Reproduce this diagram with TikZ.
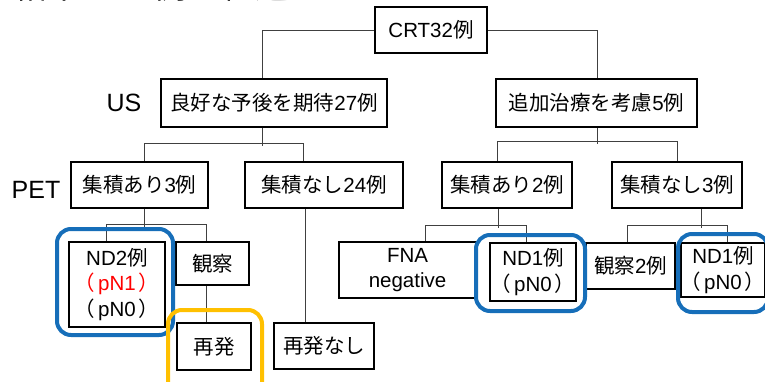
\documentclass[tikz,border=0pt]{standalone}
\usepackage{fontspec}
\setmainfont{Liberation Sans}
\newfontfamily\jpf{Noto Sans CJK JP}
\newcommand\J[1]{{\jpf #1}}
\newcommand\LP{\J{（}\hspace{3pt}}
\newcommand\RP{\hspace{3pt}\J{）}}
\definecolor{frameblue}{RGB}{22,110,185}
\definecolor{framegold}{RGB}{255,192,0}
\definecolor{linegray}{RGB}{64,64,64}
\begin{document}
\begin{tikzpicture}[x=1pt,y=-1pt,
  bx/.style={draw=black, line width=2.4pt, fill=white, inner sep=0pt, align=center,
             font=\fontsize{20.5}{25.5}\selectfont},
  conn/.style={draw=linegray, line width=1pt},
  grp/.style={draw, line width=4pt, rounded corners=14pt, inner sep=0pt},
  lbl/.style={font=\fontsize{25}{30}\selectfont, inner sep=0pt}]
\useasboundingbox (0,0) rectangle (765,381);
\clip (0,0) rectangle (765,381);

% title (cut by the top edge)
\node[anchor=base west, inner sep=0pt, font=\fontsize{34}{40}\selectfont] (title) at (13,-2) {\J{結果：}32\J{例の経過}};

% side labels
\node[lbl] (us) at (124,103) {US};
\node[lbl] (pet) at (36,190) {PET};

% boxes
\node[bx, minimum width=112pt, minimum height=46pt] (crt) at (431,30) {CRT32\J{例}};
\node[bx, minimum width=226pt, minimum height=48pt] (good) at (274,103) {\J{良好な予後を期待}27\J{例}};
\node[bx, minimum width=201pt, minimum height=48pt] (add) at (596.5,103) {\J{追加治療を考慮}5\J{例}};
\node[bx, minimum width=137pt, minimum height=46pt] (acc3) at (139.5,185) {\J{集積あり}3\J{例}};
\node[bx, minimum width=158pt, minimum height=46pt] (no24) at (324,185) {\J{集積なし}24\J{例}};
\node[bx, minimum width=130pt, minimum height=46pt] (acc2) at (507,185) {\J{集積あり}2\J{例}};
\node[bx, minimum width=130pt, minimum height=46pt] (no3) at (677,185) {\J{集積なし}3\J{例}};
\node[bx, minimum width=96pt, minimum height=85pt] (nd2) at (117,284.5)
  {ND2\J{例}\\\textcolor{red}{\LP pN1\RP}\\\LP pN0\RP};
\node[bx, minimum width=73pt, minimum height=43pt] (obs) at (212.5,263.5) {\J{観察}};
\node[bx, minimum width=74pt, minimum height=47pt] (rel) at (214,346.5) {\J{再発}};
\node[bx, minimum width=100pt, minimum height=46pt] (norel) at (324,346) {\J{再発なし}};
\node[bx, minimum width=137pt, minimum height=56pt] (fna) at (407.5,270) {FNA\\negative};
\node[bx, minimum width=86pt, minimum height=58pt] (nd1a) at (533,272) {ND1\J{例}\\\LP pN0\RP};
\node[bx, minimum width=89pt, minimum height=46pt] (obs2) at (630.5,266) {\J{観察}2\J{例}};
\node[bx, minimum width=70pt, minimum height=54pt] (nd1b) at (723,270) {ND1\J{例}\\\LP pN0\RP};

% connectors
\draw[conn] (crt.west) -| ([xshift=-12pt]good.north);
\draw[conn] (crt.east) -| ([xshift=0.5pt]add.north);
\draw[conn] ([xshift=-12pt]good.south) -- ++(0,18);
\draw[conn] ([xshift=4.5pt]acc3.north) -- ++(0,-17) -| ([xshift=-21pt]no24.north);
\draw[conn] ([xshift=0.5pt]add.south) -- ++(0,16);
\draw[conn] ([xshift=-10pt]acc2.north) -- ++(0,-19) -| (no3.north);
\draw[conn] ([xshift=4.5pt]acc3.south) -- ++(0,18);
\draw[conn] ([xshift=-11pt]nd2.north) -- ++(0,-16) -| ([xshift=-6.5pt]obs.north);
\draw[conn] ([xshift=-19pt]no24.south) -- ([xshift=-19pt]norel.north);
\draw[conn] ([xshift=-6.5pt]obs.south) -- ([xshift=-8pt]rel.north);
\draw[conn] ([xshift=-9pt]acc2.south) -- ++(0,19);
\draw[conn] ([xshift=17.5pt]fna.north) -- ++(0,-15) -| ([xshift=-7pt]nd1a.north);
\draw[conn] ([xshift=24pt]no3.south) -- ++(0,19);
\draw[conn] ([xshift=-3.5pt]obs2.north) -- ++(0,-16) -| ([xshift=4pt]nd1b.north);

% highlight frames
\node[grp, draw=frameblue, minimum width=116pt, minimum height=106pt] (hl1) at (115,282) {};
\node[grp, draw=frameblue, minimum width=109pt, minimum height=76pt] (hl2) at (530.5,273) {};
\node[grp, draw=frameblue, minimum width=90pt, minimum height=78pt] (hl3) at (723,273) {};
\node[grp, draw=framegold, minimum width=94pt, minimum height=86pt] (hl4) at (215,353) {};
\end{tikzpicture}
\end{document}
